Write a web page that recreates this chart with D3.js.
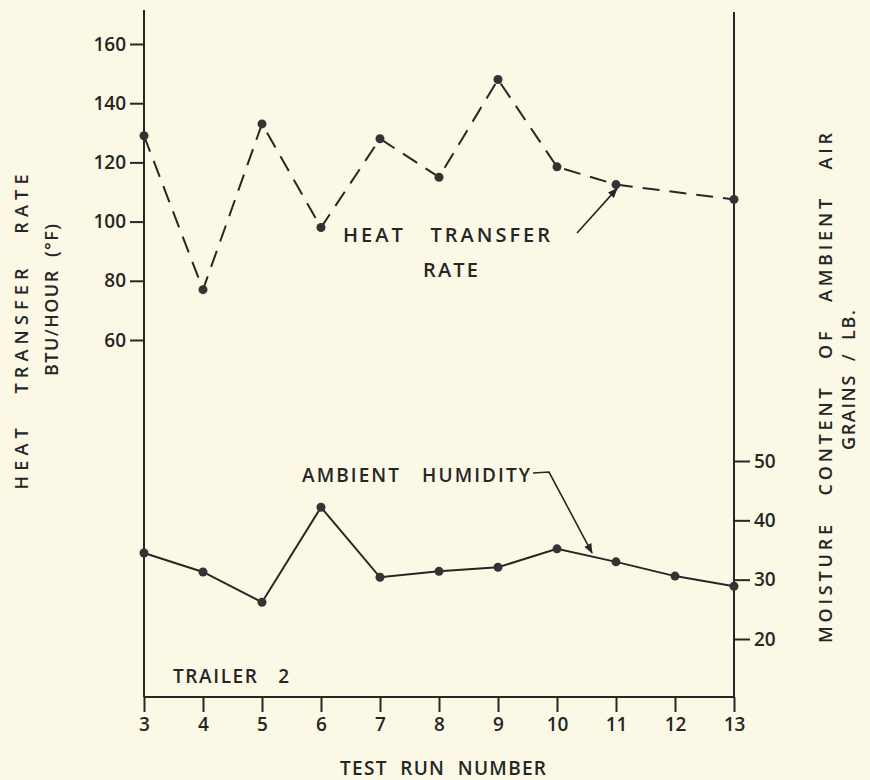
<!DOCTYPE html>
<html>
<head>
  <meta charset="UTF-8">
  <title>Heat transfer rate and ambient humidity - Trailer 2</title>
  <style>
    body { margin: 0; background-color: #fbf9e6; }
    svg { display: block; }
    text { font-family: 'Open Sans', sans-serif; font-weight: 600; fill: #262626; white-space: pre; }
    .tick text { font-size: 19px; }
    .tick line { stroke: #262626; stroke-width: 2px; }
  </style>
</head>
<body>
  <svg width="870" height="780"></svg>
  <script src="https://d3js.org/d3.v7.min.js"></script>
  <script>
    // test run numbers
    let runs = [3, 4, 5, 6, 7, 8, 9, 10, 11, 12, 13];
    // heat transfer rate, BTU/hour (°F) - no point read at run 12
    let heatRuns = [3, 4, 5, 6, 7, 8, 9, 10, 11, 13];
    let heatRate = [129, 77, 133, 98, 128, 115, 148, 118.5, 112.5, 107.5];
    // moisture content of ambient air, grains / lb.
    let humidity = [34.5, 31.3, 26.2, 42.2, 30.4, 31.4, 32.1, 35.2, 33, 30.6, 28.9];
    let leftTicks = [60, 80, 100, 120, 140, 160];
    let rightTicks = [20, 30, 40, 50];

    let ink = "#262626";
    let svg = d3.select("svg");

    let x = d3.scaleLinear().domain([3, 13]).range([144, 734]);
    let yLeft = d3.scaleLinear().domain([60, 160]).range([340, 44]);
    let yRight = d3.scaleLinear().domain([20, 50]).range([639, 461]);
    let yTop = 10, yBottom = 697;

    // arrow head
    svg.append("defs").append("marker")
      .attr("id", "arrow")
      .attr("viewBox", "0 0 10 10")
      .attr("refX", 9).attr("refY", 5)
      .attr("markerWidth", 10).attr("markerHeight", 10)
      .attr("markerUnits", "userSpaceOnUse")
      .attr("orient", "auto")
      .append("path")
      .attr("d", "M0,1 L10,5 L0,9 Z")
      .attr("fill", ink);

    // frame lines (left, right, bottom)
    svg.append("line").attr("x1", 144).attr("x2", 144).attr("y1", yTop).attr("y2", yBottom)
      .attr("stroke", ink).attr("stroke-width", 2);
    svg.append("line").attr("x1", 734).attr("x2", 734).attr("y1", yTop + 2).attr("y2", yBottom)
      .attr("stroke", ink).attr("stroke-width", 2);
    svg.append("line").attr("x1", 144).attr("x2", 734).attr("y1", yBottom).attr("y2", yBottom)
      .attr("stroke", ink).attr("stroke-width", 2);

    // axes
    let leftAxis = svg.append("g")
      .attr("transform", "translate(144,0)")
      .call(d3.axisLeft(yLeft).tickValues(leftTicks).tickFormat(d3.format("d")).tickSize(14).tickPadding(4));
    let rightAxis = svg.append("g")
      .attr("transform", "translate(734,0)")
      .call(d3.axisRight(yRight).tickValues(rightTicks).tickFormat(d3.format("d")).tickSize(16).tickPadding(4));
    let bottomAxis = svg.append("g")
      .attr("transform", "translate(0," + yBottom + ")")
      .call(d3.axisBottom(x).tickValues(runs).tickFormat(d3.format("d")).tickSize(15).tickPadding(6));
    [leftAxis, rightAxis, bottomAxis].forEach(g => {
      g.select(".domain").remove();
      g.selectAll("text").attr("fill", ink);
    });

    // heat transfer rate (dashed)
    let heatData = heatRuns.map((r, i) => ({ run: r, value: heatRate[i] }));
    svg.append("path")
      .datum(heatData)
      .attr("fill", "none")
      .attr("stroke", ink)
      .attr("stroke-width", 2)
      .attr("stroke-dasharray", "17,10")
      .attr("d", d3.line().x(d => x(d.run)).y(d => yLeft(d.value)));
    svg.append("g").selectAll("circle")
      .data(heatData)
      .enter().append("circle")
      .attr("cx", d => x(d.run))
      .attr("cy", d => yLeft(d.value))
      .attr("r", 4.5)
      .attr("fill", "#333");

    // ambient humidity (solid)
    let humData = runs.map((r, i) => ({ run: r, value: humidity[i] }));
    svg.append("path")
      .datum(humData)
      .attr("fill", "none")
      .attr("stroke", ink)
      .attr("stroke-width", 2)
      .attr("d", d3.line().x(d => x(d.run)).y(d => yRight(d.value)));
    svg.append("g").selectAll("circle")
      .data(humData)
      .enter().append("circle")
      .attr("cx", d => x(d.run))
      .attr("cy", d => yRight(d.value))
      .attr("r", 4.5)
      .attr("fill", "#333");

    // labels
    function label(txt, px, py, len, size, rot) {
      let t = svg.append("text")
        .attr("x", px).attr("y", py)
        .attr("font-size", size)
        .attr("text-anchor", rot ? "middle" : "start")
        .attr("textLength", len)
        .attr("lengthAdjust", "spacing")
        .text(txt);
      if (rot) t.attr("transform", "rotate(-90," + px + "," + py + ")");
      return t;
    }

    label("HEAT   TRANSFER   RATE", 28, 332, 315, 18, true);
    label("BTU/HOUR  (°F)", 58, 300, 152, 18, true);
    label("MOISTURE   CONTENT   OF   AMBIENT   AIR", 832, 388, 510, 18, true);
    label("GRAINS  /  LB.", 855, 380, 140, 18, true);

    label("HEAT   TRANSFER", 343, 242, 207, 20, false);
    label("RATE", 423, 277, 55, 20, false);
    label("AMBIENT   HUMIDITY", 302, 482, 228, 19, false);
    label("TRAILER   2", 173, 683, 116, 19, false);

    svg.append("text")
      .attr("x", 443).attr("y", 775)
      .attr("font-size", 19)
      .attr("text-anchor", "middle")
      .attr("textLength", 206)
      .attr("lengthAdjust", "spacing")
      .text("TEST  RUN  NUMBER");

    // leader arrows
    svg.append("line")
      .attr("x1", 577).attr("y1", 233)
      .attr("x2", x(11) + 1).attr("y2", yLeft(heatRate[8]) + 4)
      .attr("stroke", ink).attr("stroke-width", 1.6)
      .attr("marker-end", "url(#arrow)");
    svg.append("path")
      .attr("d", "M533,473 L549,472 L" + (x(10) + 35) + "," + (yRight(humidity[7]) + 4))
      .attr("fill", "none")
      .attr("stroke", ink).attr("stroke-width", 1.6)
      .attr("marker-end", "url(#arrow)");
  </script>
</body>
</html>
